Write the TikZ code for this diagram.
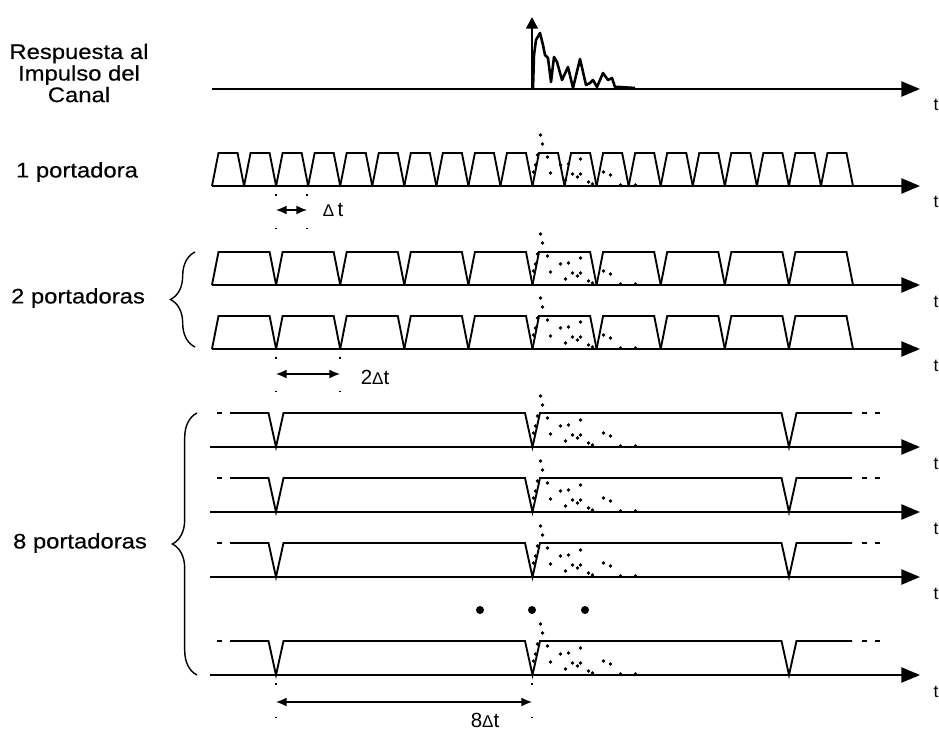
\documentclass[tikz,border=0pt]{standalone}
\usepackage{fontspec}
\setmainfont{Liberation Sans}
\newfontfamily\widefont{Liberation Sans}[FakeStretch=1.13,FakeBold=0.4]
\usetikzlibrary{arrows.meta,decorations.pathreplacing,positioning}
\tikzset{
  sig/.style={line width=1.6pt, line join=miter},
  axis/.style={line width=1.6pt, -{Triangle[length=16pt,width=13pt]}},
  pulse/.style={line width=2.2pt, line join=round},
  dim/.style={line width=1.1pt, {Latex[length=9pt,width=7.5pt]}-{Latex[length=9pt,width=7.5pt]}},
  guide/.style={line width=1.8pt, dash pattern=on 2pt off 27pt},
  lab/.style={font=\widefont\fontsize{18}{18.4}\selectfont, align=center},
  tlab/.style={font=\fontsize{15}{15}\selectfont},
  dlab/.style={font=\fontsize{17.5}{17.5}\selectfont},
  brc/.style={line width=1.2pt, decorate, decoration={brace, amplitude=21pt}}
}
\newcommand{\smalldelta}{{\fontsize{14.5}{14.5}\selectfont Δ}}
\newcommand{\echodots}[2]{%
  \foreach \dx/\dy in {8/51,10/42,5/31,3/21,1/14,15/29,18/13,28/21,36/22,40/12,33/6,
                       48/27,48/12,45/9,56/4,71/14,78/11,60/2,88/1,103/1}{
    \fill (#1+\dx,#2-\dy) circle (1.6pt);
  }
}

\begin{document}
\begin{tikzpicture}[x=0.03cm,y=-0.03cm]
  \useasboundingbox (0,0) rectangle (939,731);

  \node[lab] (resp) at (79,73) {Respuesta al\\Impulso del\\Canal};
  \node[lab] (one) at (77,172) {1 portadora};
  \node[lab] (two) at (78,298) {2 portadoras};
  \node[lab] (eight) at (80,543) {8 portadoras};

  \draw[axis] (212,89) -- (920,89);
  \node[tlab] (t0) at (936,105) {t};
  \draw[pulse,-{Triangle[length=10pt,width=10pt]}] (532,89) -- (532,17);
  \draw[pulse] plot coordinates {(533,89) (534,55) (536,40) (540,33) (543,45) (545,55)
    (548,58) (551,82) (554,57) (557,62) (562,80) (568,67) (573,88) (580,59) (586,85)
    (590,83) (593,80) (597,87) (603,73) (608,80) (612,78) (615,87) (620,87) (635,88)};

  \foreach \k in {0,...,19}{
    \pgfmathsetmacro\xa{212+32.05*\k}
    \draw[sig] (\xa,186) -- ++(6.5,-33) -- ++(19.05,0) -- ++(6.5,33);
  }
  \draw[axis] (212,186) -- (920,186);
  \node[tlab] (t1) at (936,202) {t};
  \echodots{532.5}{186}

  \foreach \b/\n in {285/a,349/b}{
    \foreach \k in {0,...,9}{
      \pgfmathsetmacro\xa{212+64.1*\k}
      \draw[sig] (\xa,\b) -- ++(6.5,-33) -- ++(51.1,0) -- ++(6.5,33);
    }
    \draw[axis] (212,\b) -- (920,\b);
    \node[tlab] (t2\n) at (936,\b+17) {t};
    \echodots{532.5}{\b}
  }
  \draw[brc] (195,347) -- (195,252);

  \foreach \b/\n in {447/a,512/b,577/c,675/d}{
    \draw[sig] (230,\b-34) -- (268.5,\b-34) -- (276,\b) -- (283.5,\b-34)
      -- (525,\b-34) -- (532.5,\b) -- (540,\b-34)
      -- (781.5,\b-34) -- (789,\b) -- (796.5,\b-34) -- (852,\b-34);
    \draw[sig] (217,\b-34) -- (222,\b-34);
    \draw[sig] (862,\b-34) -- (867,\b-34) (875,\b-34) -- (880,\b-34);
    \draw[axis] (210,\b) -- (920,\b);
    \node[tlab] (t8\n) at (936,\b+17) {t};
    \echodots{532.5}{\b}
  }
  \draw[brc] (197,675) -- (197,413);
  \foreach \x in {480,532,585}{\fill (\x,610) circle (3.4pt);}

  \coordinate (d1a) at (276,210);
  \coordinate (d1b) at (307,210);
  \draw[guide] (276,194) -- (276,229) (307,194) -- (307,229);
  \draw[dim] (d1a) -- (d1b);
  \node[dlab] (dl1) at (333,210) {\smalldelta\,t};

  \coordinate (d2a) at (276,374);
  \coordinate (d2b) at (340,374);
  \draw[guide] (276,357) -- (276,392) (340,357) -- (340,392);
  \draw[dim] (d2a) -- (d2b);
  \node[dlab] (dl2) at (375,377) {2\smalldelta t};

  \coordinate (d8a) at (276,702);
  \coordinate (d8b) at (532,702);
  \draw[guide] (276,683) -- (276,717) (532,683) -- (532,717);
  \draw[dim] (d8a) -- (d8b);
  \node[dlab] (dl8) at (485,720) {8\smalldelta t};
\end{tikzpicture}
\end{document}
